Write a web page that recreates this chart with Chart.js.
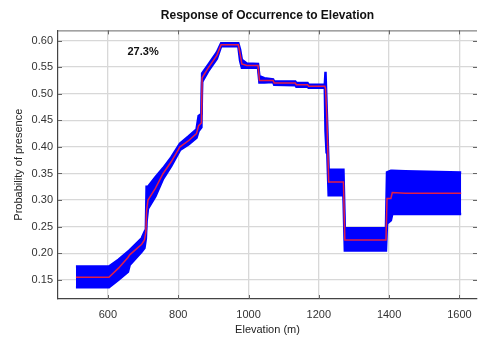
<!DOCTYPE html>
<html lang="en">
<head>
    <meta charset="UTF-8">
    <title>Response of Occurrence to Elevation</title>
    <script src="https://cdn.jsdelivr.net/npm/chart.js@4"></script>
    <style>
        html, body { margin: 0; padding: 0; background: #fff; }
        #wrap { width: 478px; height: 341px; }
    </style>
</head>
<body>
<div id="wrap"><canvas id="response_chart" width="478" height="341"></canvas></div>

<script>
    // elevation (m) and the response curve
    var elevation = [509, 603, 630, 657, 662, 696, 704, 708, 710, 714, 735, 757, 780, 805, 830, 852, 858, 866,
        868, 885, 910, 922, 971, 976, 981, 995, 1027, 1031, 1045, 1070, 1073, 1133, 1136, 1168, 1171, 1217,
        1219, 1222, 1224, 1228, 1270, 1274, 1391, 1394, 1405, 1409, 1446, 1605];
    var meanResp = [0.155, 0.155, 0.172, 0.192, 0.197, 0.217, 0.225, 0.240, 0.280, 0.300, 0.322, 0.350, 0.372, 0.400,
        0.412, 0.425, 0.440, 0.445, 0.530, 0.548, 0.572, 0.592, 0.592, 0.575, 0.556, 0.553, 0.553, 0.525, 0.525,
        0.525, 0.520, 0.520, 0.517, 0.517, 0.514, 0.514, 0.510, 0.470, 0.430, 0.334, 0.334, 0.225, 0.225, 0.303,
        0.303, 0.314, 0.313, 0.313];
    var upperResp = [0.175, 0.175, 0.188, 0.203, 0.206, 0.228, 0.240, 0.245, 0.325, 0.325, 0.343, 0.360, 0.380, 0.406,
        0.420, 0.433, 0.458, 0.462, 0.538, 0.554, 0.578, 0.595, 0.595, 0.583, 0.564, 0.557, 0.556, 0.533, 0.529,
        0.527, 0.523, 0.523, 0.520, 0.520, 0.517, 0.517, 0.541, 0.480, 0.440, 0.357, 0.357, 0.247, 0.247, 0.352,
        0.355, 0.355, 0.354, 0.352];
    var lowerResp = [0.136, 0.136, 0.150, 0.165, 0.178, 0.203, 0.210, 0.228, 0.260, 0.284, 0.307, 0.340, 0.364, 0.394,
        0.405, 0.417, 0.430, 0.437, 0.522, 0.542, 0.566, 0.589, 0.589, 0.562, 0.549, 0.549, 0.549, 0.521, 0.521,
        0.522, 0.517, 0.516, 0.513, 0.513, 0.511, 0.511, 0.430, 0.390, 0.390, 0.309, 0.309, 0.205, 0.205, 0.256,
        0.262, 0.274, 0.274, 0.274];
    var xTicks = [600, 800, 1000, 1200, 1400, 1600];
    var yTicks = [0.15, 0.20, 0.25, 0.30, 0.35, 0.40, 0.45, 0.50, 0.55, 0.60];
    var aucLabel = "27.3%";

    var toPoints = function(ys) {
        return elevation.map(function(x, i) { return {x: x, y: ys[i]}; });
    };

    // top border, inward tick marks and the percentage label
    var extras = {
        id: 'extras',
        afterDraw: function(chart) {
            var ctx = chart.ctx, a = chart.chartArea;
            var xs = chart.scales.x, ys = chart.scales.y;
            ctx.save();
            ctx.strokeStyle = '#666';
            ctx.lineWidth = 1;
            ctx.beginPath();
            ctx.moveTo(a.left, a.top + 0.5);
            ctx.lineTo(a.right, a.top + 0.5);
            xTicks.forEach(function(t) {
                var px = Math.round(xs.getPixelForValue(t)) + 0.5;
                ctx.moveTo(px, a.bottom); ctx.lineTo(px, a.bottom - 4);
                ctx.moveTo(px, a.top); ctx.lineTo(px, a.top + 4);
            });
            yTicks.forEach(function(t) {
                var py = Math.round(ys.getPixelForValue(t)) + 0.5;
                ctx.moveTo(a.left, py); ctx.lineTo(a.left + 4, py);
                ctx.moveTo(a.right, py); ctx.lineTo(a.right - 4, py);
            });
            ctx.stroke();
            ctx.fillStyle = '#111';
            ctx.font = 'bold 11px "Liberation Sans", Arial, sans-serif';
            ctx.textAlign = 'center';
            ctx.textBaseline = 'middle';
            ctx.fillText(aucLabel, xs.getPixelForValue(700), ys.getPixelForValue(0.578));
            ctx.restore();
        }
    };

    var ctx = document.getElementById('response_chart').getContext('2d');
    var chart = new Chart(ctx, {
        type: 'line',
        data: {
            datasets: [
                {
                    label: 'mean',
                    data: toPoints(meanResp),
                    borderColor: 'rgb(226,30,72)',
                    borderWidth: 1.5,
                    pointRadius: 0,
                    fill: false
                },
                {
                    label: 'upper',
                    data: toPoints(upperResp),
                    borderColor: '#0000ff',
                    backgroundColor: '#0000ff',
                    borderWidth: 2.5,
                    pointRadius: 0,
                    fill: '+1'
                },
                {
                    label: 'lower',
                    data: toPoints(lowerResp),
                    borderColor: '#0000ff',
                    borderWidth: 2.5,
                    pointRadius: 0,
                    fill: false
                }
            ]
        },
        options: {
            responsive: false,
            animation: false,
            layout: {padding: {right: 1}},
            plugins: {
                legend: {display: false},
                tooltip: {enabled: false},
                title: {
                    display: true,
                    fullSize: false,
                    text: 'Response of Occurrence to Elevation',
                    color: '#111',
                    font: {family: '"Liberation Sans", Arial, sans-serif', size: 12, weight: 'bold'},
                    padding: {top: 8, bottom: 8}
                }
            },
            scales: {
                x: {
                    type: 'linear',
                    min: 458,
                    max: 1650,
                    afterBuildTicks: function(s) { s.ticks = xTicks.map(function(v) { return {value: v}; }); },
                    afterFit: function(s) { s.height = 42; s.paddingRight = 0; s.paddingLeft = 0; },
                    grid: {color: '#d8d8d8', lineWidth: 1.3, drawTicks: false},
                    border: {color: '#444', width: 1.2},
                    ticks: {
                        color: '#333',
                        padding: 9,
                        maxRotation: 0,
                        callback: function(v) { return String(v); },
                        font: {family: '"Liberation Sans", Arial, sans-serif', size: 11}
                    },
                    title: {
                        display: true,
                        text: 'Elevation (m)',
                        color: '#222',
                        padding: {top: 4, bottom: 4},
                        font: {family: '"Liberation Sans", Arial, sans-serif', size: 11}
                    }
                },
                y: {
                    min: 0.114,
                    max: 0.619,
                    afterBuildTicks: function(s) { s.ticks = yTicks.map(function(v) { return {value: v}; }); },
                    afterFit: function(s) { s.width = 58; s.paddingTop = 0; s.paddingBottom = 0; },
                    grid: {color: '#d8d8d8', lineWidth: 1.3, drawTicks: false},
                    border: {color: '#444', width: 1.2},
                    ticks: {
                        color: '#333',
                        padding: 5,
                        callback: function(v) { return v.toFixed(2); },
                        font: {family: '"Liberation Sans", Arial, sans-serif', size: 11}
                    },
                    title: {
                        display: true,
                        text: 'Probability of presence',
                        color: '#222',
                        padding: {top: 12, bottom: 0},
                        font: {family: '"Liberation Sans", Arial, sans-serif', size: 11}
                    }
                }
            }
        },
        plugins: [extras]
    });
</script>
</body>
</html>
